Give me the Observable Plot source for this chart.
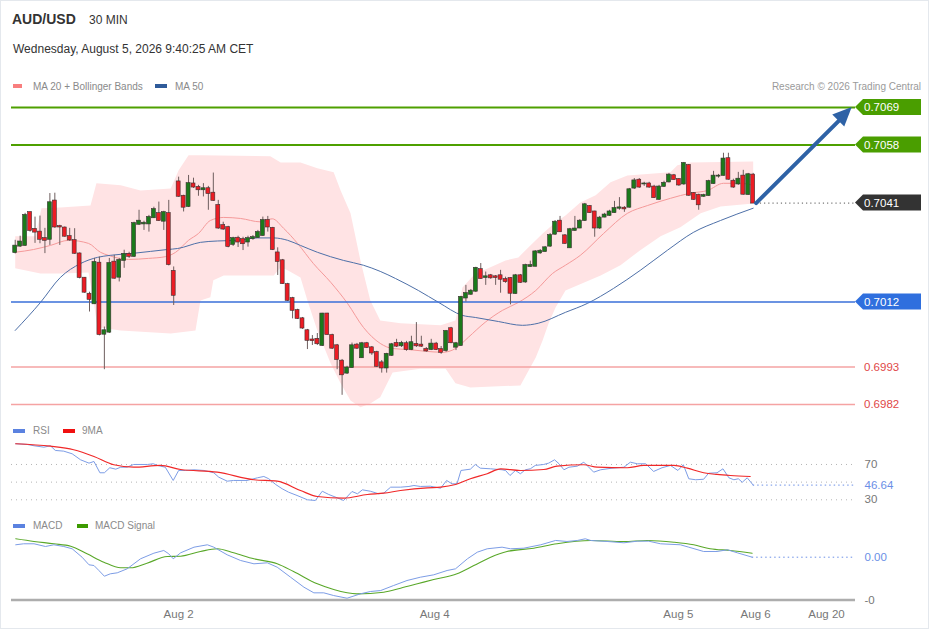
<!DOCTYPE html>
<html><head><meta charset="utf-8">
<script src="https://cdn.jsdelivr.net/npm/d3@7"></script>
<script src="https://cdn.jsdelivr.net/npm/@observablehq/plot@0.6"></script>
<style>
body{margin:0;background:#fff;font-family:"Liberation Sans",Arial,sans-serif;}
#wrap{position:relative;width:929px;height:629px;overflow:hidden;background:#fff;}
#frame{position:absolute;left:0;top:0;width:927px;height:627px;border:1px solid #e4e8ed;pointer-events:none;}
.t{position:absolute;white-space:nowrap;}
.sw{position:absolute;height:4px;}
.lg{position:absolute;white-space:nowrap;font-size:10px;line-height:10px;color:#8a8a8a;}
.panel{position:absolute;left:0;}
</style></head>
<body><div id="wrap">
<div id="frame"></div>
<div class="t" style="left:12px;top:12px;font-size:14px;line-height:14px;font-weight:bold;color:#333;">AUD/USD</div>
<div class="t" style="left:89px;top:13.8px;font-size:12px;line-height:12px;color:#333;">30 MIN</div>
<div class="t" style="left:13px;top:42.5px;font-size:12px;line-height:12px;color:#333;">Wednesday, August 5, 2026 9:40:25 AM CET</div>
<div class="sw" style="left:13px;top:84px;width:9px;background:#f87e7e;"></div>
<div class="lg" style="left:33px;top:81.5px;">MA 20 + Bollinger Bands</div>
<div class="sw" style="left:155px;top:84px;width:12px;background:#2f5b9a;"></div>
<div class="lg" style="left:175px;top:81.5px;">MA 50</div>
<div class="lg" style="right:8px;top:81.5px;color:#9a9a9a;">Research © 2026 Trading Central</div>
<div id="price" class="panel" style="top:80px;"></div>
<div id="rsi" class="panel" style="top:425px;"></div>
<div id="macd" class="panel" style="top:515px;"></div>
<div class="sw" style="left:13px;top:429px;width:12px;background:#5b82e0;"></div>
<div class="lg" style="left:33px;top:425.5px;">RSI</div>
<div class="sw" style="left:63px;top:429px;width:12px;background:#f01010;"></div>
<div class="lg" style="left:82px;top:425.5px;">9MA</div>
<div class="sw" style="left:13px;top:524px;width:12px;background:#5b82e0;"></div>
<div class="lg" style="left:33px;top:520.5px;">MACD</div>
<div class="sw" style="left:77px;top:524px;width:11px;background:#3c9a00;"></div>
<div class="lg" style="left:95px;top:520.5px;">MACD Signal</div>
</div>
<script>
// ---------- DATA ----------
const openP = [.70265,.70284,.70286,.70382,.70333,.70325,.70306,.70304,.70416,.70341,.70337,.70312,.70300,.70261,.70190,.70143,.70115,.70234,.70026,.70032,.70237,.70193,.70242,.70260,.70254,.70348,.70349,.70349,.70367,.70379,.70357,.70379,.70210,.70472,.70430,.70400,.70466,.70456,.70449,.70452,.70439,.70403,.70344,.70338,.70289,.70307,.70303,.70296,.70306,.70309,.70315,.70359,.70336,.70264,.70241,.70171,.70130,.70095,.70071,.70036,.70009,.70011,.69993,.70085,.70022,.69992,.69947,.69912,.69928,.69994,.69957,.69998,.69986,.69972,.69942,.69927,.69964,.69999,.69992,.69998,.69981,.69996,.69994,.69981,.69981,.69997,.69981,.69978,.70042,.69988,.69993,.70132,.70143,.70152,.70215,.70192,.70197,.70194,.70197,.70186,.70189,.70145,.70197,.70179,.70224,.70225,.70264,.70268,.70284,.70319,.70357,.70314,.70279,.70330,.70337,.70359,.70400,.70384,.70337,.70369,.70374,.70382,.70395,.70395,.70398,.70454,.70477,.70466,.70466,.70457,.70421,.70459,.70472,.70490,.70479,.70466,.70520,.70438,.70433,.70430,.70432,.70467,.70489,.70491,.70540,.70474,.70466,.70489,.70435,.70492];
const highP = [.70301,.70313,.70380,.70384,.70369,.70372,.70336,.70438,.70439,.70345,.70340,.70336,.70335,.70264,.70192,.70149,.70248,.70252,.70047,.70248,.70257,.70248,.70272,.70266,.70354,.70389,.70357,.70374,.70398,.70413,.70386,.70418,.70223,.70486,.70433,.70491,.70483,.70462,.70467,.70459,.70498,.70418,.70354,.70342,.70310,.70313,.70310,.70313,.70315,.70330,.70369,.70371,.70339,.70279,.70245,.70175,.70134,.70099,.70075,.70040,.70022,.70028,.70087,.70087,.70026,.69996,.69952,.69932,.70000,.69999,.70002,.70002,.69990,.69976,.69949,.69970,.69999,.70011,.70005,.70005,.70020,.70060,.70020,.69987,.70011,.70002,.69990,.70037,.70046,.70002,.70137,.70169,.70157,.70222,.70233,.70208,.70201,.70198,.70213,.70193,.70192,.70201,.70201,.70231,.70240,.70271,.70274,.70283,.70321,.70359,.70371,.70318,.70336,.70371,.70362,.70409,.70403,.70386,.70371,.70380,.70389,.70415,.70426,.70400,.70453,.70482,.70482,.70471,.70471,.70462,.70462,.70474,.70497,.70494,.70482,.70529,.70523,.70441,.70436,.70436,.70477,.70503,.70494,.70556,.70556,.70480,.70500,.70506,.70497,.70497];
const lowP = [.70261,.70280,.70283,.70325,.70292,.70291,.70262,.70286,.70336,.70286,.70310,.70298,.70260,.70188,.70146,.70091,.70113,.70021,.69922,.70028,.70187,.70179,.70219,.70248,.70251,.70345,.70330,.70325,.70365,.70356,.70330,.70226,.70110,.70427,.70384,.70397,.70453,.70430,.70428,.70389,.70415,.70333,.70330,.70279,.70283,.70280,.70271,.70281,.70301,.70307,.70313,.70325,.70271,.70198,.70172,.70122,.70071,.70069,.70040,.69981,.69993,.69993,.69990,.70023,.69981,.69922,.69847,.69908,.69926,.69981,.69955,.69984,.69964,.69929,.69912,.69912,.69961,.69987,.69987,.69976,.69978,.69987,.69987,.69973,.69978,.69978,.69967,.69973,.69998,.69978,.69990,.70120,.70140,.70148,.70187,.70169,.70187,.70169,.70146,.70175,.70112,.70143,.70175,.70175,.70222,.70223,.70260,.70266,.70280,.70315,.70324,.70289,.70277,.70327,.70335,.70356,.70380,.70310,.70333,.70367,.70371,.70380,.70389,.70383,.70395,.70450,.70453,.70459,.70453,.70424,.70418,.70456,.70469,.70477,.70459,.70462,.70430,.70418,.70389,.70427,.70430,.70465,.70483,.70489,.70477,.70453,.70462,.70433,.70433,.70409];
const closeP = [.70284,.70296,.70374,.70330,.70325,.70304,.70301,.70411,.70340,.70340,.70313,.70302,.70263,.70192,.70149,.70128,.70236,.70025,.70036,.70233,.70190,.70242,.70260,.70254,.70350,.70357,.70351,.70368,.70391,.70359,.70382,.70230,.70140,.70430,.70398,.70467,.70457,.70449,.70452,.70438,.70418,.70337,.70334,.70283,.70306,.70296,.70291,.70306,.70309,.70324,.70359,.70340,.70274,.70239,.70174,.70125,.70096,.70072,.70044,.70008,.70007,.69998,.70085,.70025,.69985,.69952,.69907,.69927,.69992,.69985,.69998,.69987,.69971,.69932,.69927,.69967,.69995,.69991,.69999,.69981,.70001,.69992,.69991,.69977,.69997,.69981,.69973,.70034,.70001,.69998,.70134,.70145,.70152,.70219,.70189,.70194,.70191,.70192,.70187,.70180,.70146,.70197,.70178,.70227,.70227,.70267,.70269,.70279,.70315,.70354,.70326,.70292,.70332,.70334,.70357,.70405,.70382,.70337,.70366,.70375,.70384,.70394,.70396,.70393,.70449,.70475,.70457,.70466,.70457,.70426,.70457,.70468,.70492,.70479,.70463,.70526,.70433,.70421,.70405,.70432,.70473,.70489,.70489,.70539,.70480,.70457,.70480,.70436,.70493,.70410];

const bbUpperIdx = [0,4.1,5.3,9.1,15.2,16.4,21.3,25.3,31.4,33.0,35.0,37.4,51.5,53.6,57.6,61.0,64.3,65.7,67.7,69.7,71.7,73.7,77.8,85.9,88.9,90.3,92.9,95.5,99.0,101.6,103.6,106.5,109.1,111.1,114.1,117.2,120.2,123.6,132.3,133.7,136.3,149];
const bbUpper = [.70313,.70313,.70395,.70397,.70403,.70468,.70462,.70447,.70453,.70506,.70550,.70550,.70547,.70529,.70529,.70512,.70500,.70447,.70380,.70242,.70125,.70066,.70058,.70052,.70066,.70163,.70204,.70219,.70242,.70251,.70280,.70321,.70354,.70374,.70412,.70433,.70471,.70491,.70500,.70521,.70529,.70532];
const bbLowerIdx = [0,5.1,9.1,14.8,15.8,16.6,21.3,31.4,36.4,37.4,39.4,40.0,42.1,52.2,53.6,55.0,57.6,59.0,61.0,63.7,65.7,67.7,69.7,71.7,73.7,76.2,81.8,86.9,88.9,91.9,102.0,105.1,106.5,107.7,109.1,111.1,118.2,122.2,126.2,130.3,134.3,138.4,142.4,149];
const bbLower = [.70219,.70204,.70204,.70207,.70125,.70046,.70037,.70028,.70037,.70125,.70134,.70184,.70198,.70198,.70222,.70213,.70192,.70125,.70037,.69940,.69882,.69832,.69812,.69823,.69841,.69914,.69925,.69925,.69882,.69870,.69876,.69958,.70008,.70058,.70104,.70154,.70198,.70228,.70272,.70313,.70339,.70380,.70400,.70409];
const ma20Idx = [0,3.7,7.1,10.8,14.8,17.2,18.8,22.9,26.9,30.3,32.4,35.0,37.0,39.4,42.1,45.5,49.5,51.9,54.2,57.0,60.2,63.7,67.1,70.3,73.7,76.2,79.4,82.8,86.3,88.9,91.5,94.9,98.4,101.6,105.1,108.5,111.1,114.1,118.8,123.6,127.7,132.3,136.3,139.8,143.0,146.4,149];
const ma20 = [.70266,.70274,.70286,.70301,.70292,.70266,.70257,.70245,.70248,.70253,.70266,.70301,.70321,.70359,.70368,.70365,.70355,.70364,.70336,.70292,.70233,.70178,.70116,.70046,.69999,.69984,.69981,.69976,.69973,.69984,.70017,.70061,.70096,.70119,.70154,.70204,.70228,.70257,.70321,.70380,.70403,.70424,.70439,.70447,.70468,.70468,.70462];
const ma50Idx = [0,5.1,9.1,13.2,16.6,19.2,23.9,30.7,32.8,37.4,40.8,44.9,48.9,52.2,55.0,57.6,61.0,66.3,70.3,73.7,76.8,81.4,85.5,90.3,92.9,97.6,102.4,105.6,111.1,115.5,120.8,126.2,131.7,136.9,142.4,149];
const ma50 = [.70037,.70119,.70192,.70233,.70251,.70257,.70263,.70274,.70277,.70295,.70299,.70301,.70308,.70308,.70301,.70286,.70266,.70242,.70228,.70210,.70189,.70154,.70119,.70081,.70075,.70063,.70052,.70058,.70090,.70116,.70160,.70213,.70272,.70324,.70359,.70395];

const rsiIdx = [0.1,2.4,3.8,5.8,7.1,8.1,9.8,11.5,13.2,14.9,15.9,17.1,18.0,19.1,20.3,21.3,22.6,23.9,26.7,27.9,28.7,30.3,31.9,33.0,34.4,36.1,38.1,40.1,41.1,42.8,44.1,46.8,48.9,50.2,51.2,52.6,53.9,55.2,56.9,59.0,60.6,62.0,63.3,65.0,66.3,68.0,69.1,70.1,71.7,73.4,74.4,75.8,77.8,79.5,80.5,81.8,83.8,85.9,87.1,88.2,89.2,90.0,91.9,92.9,93.9,96.0,98.3,99.0,99.9,101.0,102.0,103.0,104.0,105.0,106.7,107.7,108.9,109.8,110.8,111.8,113.5,114.8,116.8,118.2,120.5,122.9,124.2,125.6,127.3,128.9,130.6,132.3,133.8,134.9,136.0,137.4,139.0,140.0,141.7,142.9,144.1,145.1,146.0,146.8,147.8,149];
const rsiVal = [93.5,92.7,91.2,89.6,91.2,85.9,85.1,82.1,75.3,71.5,73.4,60.6,60.6,66.3,64.7,66.9,66.9,70.0,70.0,70.8,68.9,66.9,51.9,63.2,63.2,64.0,63.2,60.6,55.6,51.1,51.9,51.9,54.9,56.4,53.8,47.3,42.5,38.6,34.9,30.0,29.2,39.7,36.0,32.3,29.2,39.4,36.8,41.3,39.7,36.8,37.5,44.3,44.3,45.1,46.2,45.1,45.4,43.1,51.9,48.1,48.1,63.2,64.7,70.0,65.8,65.1,64.0,63.2,57.5,63.2,59.5,64.0,65.1,68.9,70.0,71.5,75.3,70.8,64.0,66.9,68.1,72.6,61.3,64.0,65.8,66.9,72.6,70.8,70.8,62.1,66.3,68.9,63.2,69.7,53.8,52.7,53.3,60.1,60.6,65.1,54.9,52.7,53.8,49.9,54.9,46.64];
const rsiMaIdx = [0.1,7.1,11.8,15.9,19.9,23.9,29.3,33.4,40.8,48.2,52.9,57.6,61.0,66.3,71.1,74.4,77.8,83.2,85.9,88.9,91.9,95.3,98.0,102.0,106.7,109.4,114.8,117.5,123.6,126.9,133.0,135.7,139.0,141.7,144.4,148.4];
const rsiMaVal = [93.5,90.7,86.7,79.1,69.7,66.9,68.9,64.3,61.3,52.7,51.1,40.5,33.7,31.8,36.0,37.5,40.5,43.6,44.3,47.3,53.8,59.5,65.1,63.2,64.3,68.1,69.7,66.9,66.3,68.9,68.9,65.8,60.6,58.7,57.5,56.4];
const rsiGrid = [70, 50, 30];
const rsiTicks = [70, 30];

const macdIdx = [0.1,1.7,3.8,6.1,7.8,9.8,11.5,13.5,14.9,15.9,16.9,18.0,19.2,20.6,22.6,25.3,28.0,30.0,31.0,31.9,33.4,36.1,38.8,40.1,42.8,45.5,48.2,50.9,52.9,55.6,58.3,60.3,62.3,64.3,67.0,69.7,71.7,73.8,76.4,79.1,81.8,84.5,87.2,88.9,91.3,93.3,95.3,98.3,100.0,102.7,106.1,109.1,111.4,113.5,115.1,116.2,119.5,122.9,125.6,127.9,130.3,134.3,136.0,139.0,141.7,143.8,145.8,148.8];
const macdVal = [0.000434,0.000460,0.000460,0.000390,0.000434,0.000390,0.000330,0.000112,-0.000086,-0.000104,-0.000234,-0.000382,-0.000320,-0.000294,-0.000190,0.000070,0.000216,0.000286,0.000200,0.000070,0.000226,0.000372,0.000434,0.000372,0.000174,0.000026,-0.000060,-0.000034,-0.000148,-0.000408,-0.000668,-0.000814,-0.000814,-0.000884,-0.000954,-0.000840,-0.000780,-0.000754,-0.000624,-0.000494,-0.000408,-0.000346,-0.000234,-0.000190,0.000070,0.000242,0.000330,0.000372,0.000330,0.000346,0.000434,0.000546,0.000520,0.000546,0.000590,0.000546,0.000520,0.000486,0.000528,0.000528,0.000460,0.000434,0.000372,0.000260,0.000260,0.000304,0.000226,0.000112];
const sigIdx = [0.1,3.8,7.8,11.2,14.5,17.9,21.3,23.3,26.6,30.7,33.4,37.4,40.8,44.1,48.2,52.9,56.2,61.0,64.3,69.0,74.4,77.8,81.2,84.5,89.2,92.6,96.0,99.3,104.7,109.4,116.2,122.9,127.6,133.0,137.0,140.3,144.4,148.8];
const sigVal = [0.000590,0.000520,0.000460,0.000398,0.000200,-0.000018,-0.000164,-0.000164,-0.000044,0.000130,0.000138,0.000260,0.000330,0.000226,0.000070,-0.000060,-0.000260,-0.000580,-0.000728,-0.000840,-0.000798,-0.000694,-0.000580,-0.000468,-0.000320,-0.000104,0.000112,0.000260,0.000346,0.000460,0.000546,0.000520,0.000546,0.000502,0.000434,0.000330,0.000286,0.000216];
const macdTicks = [-0.001];
const macdTickLabels = ["-0"];

const tickIdx = [33.0, 84.7, 133.9, 149.5, 163.8];
const tickLabels = ["Aug 2", "Aug 4", "Aug 5", "Aug 6", "Aug 20"];

const resistLevels = [0.7069, 0.7058];
const pivotLevel = [0.7012];
const supportLevels = [0.6993, 0.6982];
const lastPrice = 0.7041;
const arrowTarget = {i: 169.0, price: 0.7069};

// ---------- BUILD ----------
const candles = openP.map((o, i) => ({i, open: o, high: highP[i], low: lowP[i], close: closeP[i]}));
const lastIdx = candles.length - 1;
const pts = (xs, ys) => xs.map((x, k) => ({i: x, v: ys[k]}));
const bbPoly = pts(bbUpperIdx, bbUpper).concat(pts(bbLowerIdx, bbLower).reverse());
const xDomain = [-0.75, 169.66];
const font = "Liberation Sans, Arial, sans-serif";
const GREEN = "#1b7a1b", RED = "#ec1c24", ARROW = "#2e62a6";
const baseStyle = {background: "transparent", fontFamily: font, overflow: "visible"};

const price = Plot.plot({
  width: 929, height: 340,
  marginLeft: 11, marginRight: 74, marginTop: 16.76, marginBottom: 9.15,
  x: {domain: xDomain, axis: null},
  y: {domain: [0.6980, 0.7072], axis: null},
  style: baseStyle,
  marks: [
    Plot.line(bbPoly, {x: "i", y: "v", fill: "#ffe3e4", stroke: "none"}),
    Plot.line(pts(ma20Idx, ma20), {x: "i", y: "v", stroke: "#f59a9a", strokeWidth: 1, curve: "monotone-x"}),
    Plot.line(pts(ma50Idx, ma50), {x: "i", y: "v", stroke: "#4e70a8", strokeWidth: 1, curve: "monotone-x"}),
    Plot.ruleY(resistLevels, {y: d => d, stroke: "#4ea000", strokeWidth: 2}),
    Plot.ruleY(pivotLevel, {y: d => d, stroke: "#3a6fd8", strokeWidth: 1.5}),
    Plot.ruleY(supportLevels, {y: d => d, stroke: "#f5a3a3", strokeWidth: 1.5}),
    Plot.ruleY([lastPrice], {y: d => d, x1: () => lastIdx + 0.6, x2: () => xDomain[1], stroke: "#555", strokeDasharray: "1.2,3"}),
    Plot.ruleX(candles, {x: "i", y1: "low", y2: "high", stroke: "#6e5e5e", strokeWidth: 1}),
    Plot.rect(candles, {filter: d => d.close >= d.open, x1: d => d.i - 0.4, x2: d => d.i + 0.4, y1: "open", y2: "close", fill: GREEN, stroke: "#3a3030", strokeWidth: 0.6, insetTop: -0.5, insetBottom: -0.5}),
    Plot.rect(candles, {filter: d => d.close < d.open, x1: d => d.i - 0.4, x2: d => d.i + 0.4, y1: "open", y2: "close", fill: RED, stroke: "#3a3030", strokeWidth: 0.6, insetTop: -0.5, insetBottom: -0.5}),
    Plot.arrow([{x1: lastIdx + 0.6, y1: lastPrice, x2: arrowTarget.i, y2: arrowTarget.price}], {x1: "x1", y1: "y1", x2: "x2", y2: "y2", stroke: ARROW, strokeWidth: 4, headLength: 0, insetEnd: 14})
  ]
});
document.getElementById("price").appendChild(price);

// price tags and arrow head, placed through the plot's own scales
(function () {
  const ys = price.scale("y"), xs = price.scale("x");
  const x0 = xs.apply(xDomain[1]);
  const svg = d3.select(price);
  const tags = [
    {v: resistLevels[0], bg: "#4a9e00", fg: "#fff"},
    {v: resistLevels[1], bg: "#4a9e00", fg: "#fff"},
    {v: lastPrice, bg: "#333333", fg: "#fff"},
    {v: pivotLevel[0], bg: "#2f6fde", fg: "#fff"},
    {v: supportLevels[0], bg: null, fg: "#e04848"},
    {v: supportLevels[1], bg: null, fg: "#e04848"}
  ];
  const g = svg.append("g");
  tags.forEach(t => {
    const y = ys.apply(t.v);
    if (t.bg) {
      g.append("path").attr("d", `M${x0},${y} L${x0 + 8},${y - 8} H${x0 + 66} V${y + 8} H${x0 + 8} Z`).attr("fill", t.bg);
    }
    g.append("text").attr("x", x0 + 9).attr("y", y).attr("dy", "0.36em")
      .attr("text-anchor", "start")
      .attr("fill", t.fg).attr("font-size", 11.5).attr("font-family", font)
      .text(t.v.toFixed(4));
  });
  // filled arrow head at the target
  const ax1 = xs.apply(lastIdx + 0.6), ay1 = ys.apply(lastPrice);
  const ax2 = xs.apply(arrowTarget.i), ay2 = ys.apply(arrowTarget.price);
  const ang = Math.atan2(ay2 - ay1, ax2 - ax1), L = 19, W = 8.5;
  const bx = ax2 - L * Math.cos(ang), by = ay2 - L * Math.sin(ang);
  const nx = -Math.sin(ang) * W, ny = Math.cos(ang) * W;
  g.append("path").attr("d", `M${ax2},${ay2} L${bx + nx},${by + ny} L${bx - nx},${by - ny} Z`).attr("fill", ARROW);
})();

const rsiLast = rsiVal[rsiVal.length - 1];
const rsi = Plot.plot({
  width: 929, height: 85,
  marginLeft: 11, marginRight: 74, marginTop: 12.5, marginBottom: 6.3,
  x: {domain: xDomain, axis: null},
  y: {domain: [25, 100]},
  style: baseStyle,
  marks: [
    Plot.ruleY(rsiGrid, {y: d => d, stroke: "#b5b5b5", strokeDasharray: "1,4"}),
    Plot.ruleY([rsiLast], {y: d => d, x1: () => rsiIdx[rsiIdx.length - 1], x2: () => xDomain[1], stroke: "#6b8fe6", strokeDasharray: "1.5,3"}),
    Plot.line(pts(rsiIdx, rsiVal), {x: "i", y: "v", stroke: "#7d9de6", strokeWidth: 1}),
    Plot.line(pts(rsiMaIdx, rsiMaVal), {x: "i", y: "v", stroke: "#f02828", strokeWidth: 1.2, curve: "monotone-x"}),
    Plot.axisY({anchor: "right", ticks: rsiTicks, tickSize: 0, tickPadding: 9, fontSize: 11.5, fill: "#777", label: null}),
    Plot.text([rsiLast], {x: () => xDomain[1], y: d => d, text: d => d.toFixed(2), dx: 9, textAnchor: "start", fill: "#6b8fe6", fontSize: 11.5})
  ]
});
document.getElementById("rsi").appendChild(rsi);

const macdLast = macdVal[macdVal.length - 1];
const macdLabelMap = new Map(macdTicks.map((t, k) => [t, macdTickLabels[k]]));
const xLabelMap = new Map(tickIdx.map((t, k) => [t, tickLabels[k]]));
const macd = Plot.plot({
  width: 929, height: 115,
  marginLeft: 11, marginRight: 74, marginTop: 19.05, marginBottom: 30.5,
  x: {domain: xDomain},
  y: {domain: [-0.001, 0.0007]},
  style: baseStyle,
  marks: [
    Plot.ruleY([macdLast], {y: d => d, x1: () => macdIdx[macdIdx.length - 1], x2: () => xDomain[1], stroke: "#6b8fe6", strokeDasharray: "1.5,3"}),
    Plot.line(pts(sigIdx, sigVal), {x: "i", y: "v", stroke: "#5aa82a", strokeWidth: 1.1, curve: "monotone-x"}),
    Plot.line(pts(macdIdx, macdVal), {x: "i", y: "v", stroke: "#7d9de6", strokeWidth: 1}),
    Plot.ruleY([macdTicks[0]], {y: d => d, stroke: "#adadad", strokeWidth: 2.5}),
    Plot.axisY({anchor: "right", ticks: macdTicks, tickFormat: d => macdLabelMap.get(d), tickSize: 0, tickPadding: 9, fontSize: 11.5, fill: "#777", label: null}),
    Plot.text([macdLast], {x: () => xDomain[1], y: d => d, text: d => d.toFixed(2), dx: 9, textAnchor: "start", fill: "#6b8fe6", fontSize: 11.5}),
    Plot.axisX({ticks: tickIdx, tickFormat: d => xLabelMap.get(d), tickSize: 0, tickPadding: 10, fontSize: 11.5, fill: "#777", label: null})
  ]
});
document.getElementById("macd").appendChild(macd);
</script>
</body></html>
